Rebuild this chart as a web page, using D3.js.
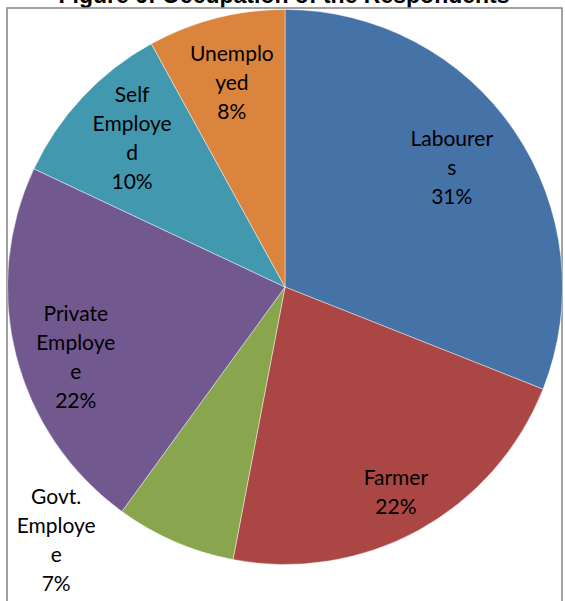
<!DOCTYPE html>
<html>
<head>
<meta charset="utf-8">
<script src="https://cdn.jsdelivr.net/npm/d3@7"></script>
<style>
  html, body { margin: 0; padding: 0; background: #fff; }
  svg { display: block; }
</style>
</head>
<body>
<svg id="chart" width="565" height="601"></svg>
<script>
// Occupation of the respondents (percent share)
const categories = ["Labourers", "Farmer", "Govt. Employee", "Private Employee", "Self Employed", "Unemployed"];
const values = [31, 22, 7, 22, 10, 8];
// Category names as they wrap inside the labels
const labelLines = [
  ["Labourer", "s"],
  ["Farmer"],
  ["Govt.", "Employe", "e"],
  ["Private", "Employe", "e"],
  ["Self", "Employe", "d"],
  ["Unemplo", "yed"]
];
const colors = ["#4572A7", "#AA4643", "#89A54E", "#71588F", "#4198AF", "#DB843D"];
const title = "Figure 6: Occupation of the Respondents";

// Label placement: radius as a fraction of the pie radius, plus an angular nudge (degrees)
const labelRadius = [0.74, 0.84, 1.23, 0.795, 0.77, 0.76];
const labelNudge = [-1.5, 0.4, 18.7, -4.1, 1.1, -0.2];

const W = 565, H = 601;
const cx = 285, cy = 287, R = 277.5;
const lineHeight = 29;

const svg = d3.select("#chart");

// Title (sits above the chart frame)
svg.append("text")
  .attr("x", 284)
  .attr("y", 3)
  .attr("text-anchor", "middle")
  .attr("font-family", "Liberation Sans, Arial, sans-serif")
  .attr("font-weight", "bold")
  .attr("font-size", 23)
  .attr("fill", "#000")
  .text(title);

// Chart frame
svg.append("rect")
  .attr("x", 7)
  .attr("y", 8)
  .attr("width", 555)
  .attr("height", 640)
  .attr("fill", "#fff")
  .attr("stroke", "#8a8a8a")
  .attr("stroke-width", 1.6);

const total = d3.sum(values);
const pct = d3.format(".0%");

const pie = d3.pie().sort(null).value(d => d)(values);
const arc = d3.arc().innerRadius(0).outerRadius(R);

const g = svg.append("g").attr("transform", `translate(${cx},${cy})`);

g.selectAll("path.slice")
  .data(pie)
  .join("path")
  .attr("class", "slice")
  .attr("d", arc)
  .attr("fill", (d, i) => colors[i])
  .attr("stroke", "#ffffff")
  .attr("stroke-opacity", 0.55)
  .attr("stroke-width", 0.8);

// Data labels: wrapped category name followed by the percentage
const labels = g.selectAll("text.label")
  .data(pie)
  .join("text")
  .attr("class", "label")
  .attr("text-anchor", "middle")
  .attr("font-family", "Lato, 'Open Sans', sans-serif")
  .attr("font-size", 21)
  .attr("fill", "#000")
  .each(function(d, i) {
    const mid = (d.startAngle + d.endAngle) / 2 + labelNudge[i] * Math.PI / 180;
    const r = labelRadius[i] * R;
    const x = r * Math.sin(mid);
    const y = -r * Math.cos(mid);
    const lines = labelLines[i].concat([pct(values[i] / total)]);
    const n = lines.length;
    const firstBaseline = y + 7.5 - (n - 1) * lineHeight / 2;
    const t = d3.select(this);
    lines.forEach((s, k) => {
      t.append("tspan")
        .attr("x", x)
        .attr("y", firstBaseline + k * lineHeight)
        .text(s);
    });
  });
</script>
</body>
</html>
